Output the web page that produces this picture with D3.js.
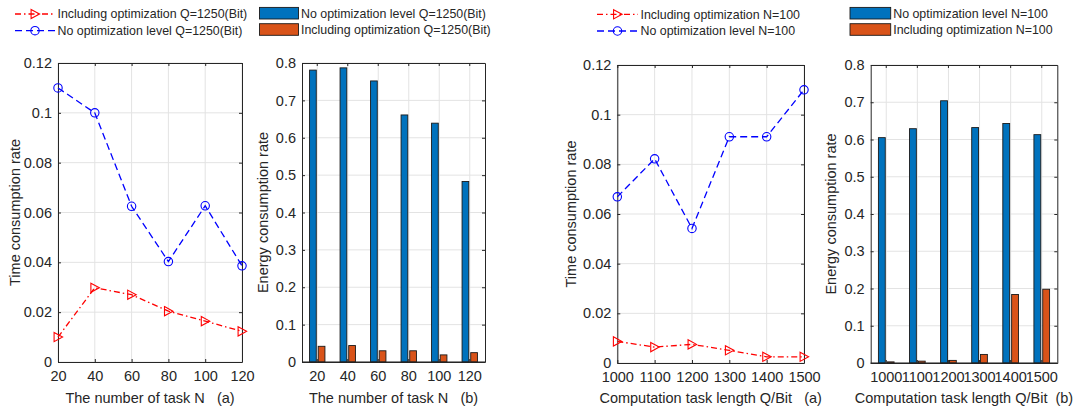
<!DOCTYPE html>
<html>
<head>
<meta charset="utf-8">
<script src="https://cdn.jsdelivr.net/npm/d3@7"></script>
<style>
    body { margin: 0; background: #fff; }
    text { font-family: "Liberation Sans", Arial, sans-serif; fill: #262626; }
</style>
</head>
<body>
<svg id="chart" width="1082" height="413"></svg>
<script>

// ---- data ----
let taskN = [20, 40, 60, 80, 100, 120];
let timeOptN = [0.0100, 0.0298, 0.0270, 0.0204, 0.0164, 0.0123];
let timeNoOptN = [0.1100, 0.1000, 0.0625, 0.0403, 0.0627, 0.0386];
let energyNoOptN = [0.781, 0.787, 0.752, 0.661, 0.639, 0.483];
let energyOptN = [0.042, 0.044, 0.030, 0.030, 0.019, 0.025];

let taskQ = [1000, 1100, 1200, 1300, 1400, 1500];
let timeOptQ = [0.0087, 0.0064, 0.0075, 0.0051, 0.0025, 0.0025];
let timeNoOptQ = [0.0669, 0.0822, 0.0542, 0.0911, 0.0911, 0.1100];
let energyNoOptQ = [0.605, 0.629, 0.704, 0.632, 0.643, 0.613];
let energyOptQ = [0.003, 0.005, 0.007, 0.023, 0.184, 0.198];

let timeTicks = [0, 0.02, 0.04, 0.06, 0.08, 0.1, 0.12];
let energyTicks = [0, 0.1, 0.2, 0.3, 0.4, 0.5, 0.6, 0.7, 0.8];

let timeLabel = "Time consumption rate";
let energyLabel = "Energy consumption rate";
let xLabelN = ["The number of task N   (a)", "The number of task N   (b)"];
let xLabelQ = ["Computation task length Q/Bit   (a)", "Computation task length Q/Bit  (b)"];
let legendN = ["Including optimization Q=1250(Bit)", "No optimization level Q=1250(Bit)"];
let legendBarN = ["No optimization level Q=1250(Bit)", "Including optimization Q=1250(Bit)"];
let legendQ = ["Including optimization N=100", "No optimization level N=100"];
let legendBarQ = ["No optimization level N=100", "Including optimization N=100"];

// matlab-ish colours
const RED = "#ff0000", BLUE = "#0000ff";
const BAR_BLUE = "#0072bd", BAR_ORANGE = "#d95319";
const AXIS = "#262626", GRID = "#e3e3e3";
const TICK_FS = 14.5, LABEL_FS = 14.5, LEGEND_FS = 12.4;

let svg = d3.select("#chart");

function triPath(size) {
    let s = size;
    return `M${-s * 0.85},${-s} L${s},0 L${-s * 0.85},${s} Z`;
}

// draws box, grid, inward ticks and labels for one axes
function drawFrame(g, x, y, box, yTicks, isBand, xTicks) {
    let [x0, x1, y0, y1] = box;

    // grid
    g.append("g").selectAll("line").data(yTicks).enter().append("line")
        .attr("x1", x0).attr("x2", x1)
        .attr("y1", d => y(d)).attr("y2", d => y(d))
        .attr("stroke", GRID).attr("stroke-width", 1);
    g.append("g").selectAll("line").data(xTicks).enter().append("line")
        .attr("x1", d => isBand ? x(d) + x.bandwidth() / 2 : x(d))
        .attr("x2", d => isBand ? x(d) + x.bandwidth() / 2 : x(d))
        .attr("y1", y0).attr("y2", y1)
        .attr("stroke", GRID).attr("stroke-width", 1);

    let ax = g.append("g").attr("class", "axes");

    let left = d3.axisLeft(y).tickValues(yTicks).tickSizeInner(-3).tickSizeOuter(0).tickPadding(6)
        .tickFormat(d3.format("~g"));
    let right = d3.axisRight(y).tickValues(yTicks).tickSizeInner(-3).tickSizeOuter(0).tickFormat("");
    let bottom = d3.axisBottom(x).tickValues(xTicks).tickSizeInner(-3).tickSizeOuter(0).tickPadding(9)
        .tickFormat(d => String(d));
    let top = d3.axisTop(x).tickValues(xTicks).tickSizeInner(-3).tickSizeOuter(0).tickFormat("");

    ax.append("g").attr("transform", `translate(${x0},0)`).call(left);
    ax.append("g").attr("transform", `translate(${x1},0)`).call(right);
    ax.append("g").attr("transform", `translate(0,${y1})`).call(bottom);
    ax.append("g").attr("transform", `translate(0,${y0})`).call(top);

    ax.selectAll(".domain").attr("stroke", AXIS).attr("stroke-width", 1);
    ax.selectAll(".tick line").attr("stroke", AXIS);
    ax.selectAll(".tick text").attr("font-size", TICK_FS).attr("fill", AXIS)
        .style("font-family", "'Liberation Sans', Arial, sans-serif");
}

function addLabels(g, box, xText, yText, yLabelX) {
    let [x0, x1, y0, y1] = box;
    g.append("text")
        .attr("x", (x0 + x1) / 2).attr("y", 402.5)
        .attr("text-anchor", "middle").attr("font-size", LABEL_FS)
        .style("white-space", "pre")
        .text(xText);
    g.append("text")
        .attr("transform", `translate(${yLabelX},${(y0 + y1) / 2}) rotate(-90)`)
        .attr("text-anchor", "middle").attr("font-size", LABEL_FS)
        .text(yText);
}

// ---- line panel ----
function linePanel(box, xs, opt, noOpt, legendTexts, legendPos, xText, yLabelX) {
    let [x0, x1, y0, y1] = box;
    let g = svg.append("g");
    let x = d3.scaleLinear().domain([xs[0], xs[xs.length - 1]]).range([x0, x1]);
    let y = d3.scaleLinear().domain([0, 0.12]).range([y1, y0]);

    drawFrame(g, x, y, box, timeTicks, false, xs);

    let line = d3.line().x(d => x(d[0])).y(d => y(d[1]));
    let series = [
        {vals: opt, color: RED, dash: "6,3,1.5,3", marker: "tri"},
        {vals: noOpt, color: BLUE, dash: "7,4", marker: "circle"}
    ];

    series.forEach(function (s) {
        let pts = xs.map((v, i) => [v, s.vals[i]]);
        g.append("path").datum(pts)
            .attr("d", line).attr("fill", "none")
            .attr("stroke", s.color).attr("stroke-width", 1.3)
            .attr("stroke-dasharray", s.dash);
        drawMarkers(g, pts.map(p => [x(p[0]), y(p[1])]), s);
    });

    // legend
    let [lx0, lx1, ly] = legendPos;
    series.forEach(function (s, i) {
        let yy = ly + i * 16.7;
        g.append("line").attr("x1", lx0).attr("x2", lx1).attr("y1", yy).attr("y2", yy)
            .attr("stroke", s.color).attr("stroke-width", 1.3).attr("stroke-dasharray", s.dash);
        drawMarkers(g, [[(lx0 + lx1) / 2, yy]], s);
        g.append("text").attr("x", lx1 + 2.5).attr("y", yy + 4.4)
            .attr("font-size", LEGEND_FS).text(legendTexts[i]);
    });

    addLabels(g, box, xText, timeLabel, yLabelX);
}

function drawMarkers(g, pts, s) {
    if (s.marker == "tri") {
        g.append("g").selectAll("path").data(pts).enter().append("path")
            .attr("d", triPath(4.6))
            .attr("transform", d => `translate(${d[0]},${d[1]})`)
            .attr("fill", "none").attr("stroke", s.color).attr("stroke-width", 1.1);
    } else {
        g.append("g").selectAll("circle").data(pts).enter().append("circle")
            .attr("cx", d => d[0]).attr("cy", d => d[1]).attr("r", 4.2)
            .attr("fill", "none").attr("stroke", s.color).attr("stroke-width", 1.1);
    }
}

// ---- bar panel ----
function barPanel(box, cats, noOpt, opt, legendTexts, legendPos, xText, yLabelX) {
    let [x0, x1, y0, y1] = box;
    let g = svg.append("g");
    let x = d3.scaleBand().domain(cats).range([x0, x1]).padding(0);
    let y = d3.scaleLinear().domain([0, 0.8]).range([y1, y0]);

    drawFrame(g, x, y, box, energyTicks, true, cats);

    let bw = x.bandwidth() * 0.22;
    let off = x.bandwidth() * 0.142;
    let series = [
        {vals: noOpt, color: BAR_BLUE, shift: -off},
        {vals: opt, color: BAR_ORANGE, shift: off}
    ];

    series.forEach(function (s) {
        g.append("g").selectAll("rect").data(cats).enter().append("rect")
            .attr("x", (d) => x(d) + x.bandwidth() / 2 + s.shift - bw / 2)
            .attr("width", bw)
            .attr("y", (d, i) => y(s.vals[i]))
            .attr("height", (d, i) => y(0) - y(s.vals[i]))
            .attr("fill", s.color).attr("stroke", "#1a1a1a").attr("stroke-width", 0.9);
    });

    // redraw bottom domain over bar edges
    g.append("line").attr("x1", x0).attr("x2", x1).attr("y1", y1).attr("y2", y1)
        .attr("stroke", AXIS).attr("stroke-width", 1);

    let [lx0, lx1, ly] = legendPos;
    series.forEach(function (s, i) {
        let yy = ly + i * 16.3;
        g.append("rect").attr("x", lx0).attr("y", yy - 5.8).attr("width", lx1 - lx0).attr("height", 11.6)
            .attr("fill", s.color).attr("stroke", "#1a1a1a").attr("stroke-width", 0.9);
        g.append("text").attr("x", lx1 + 2.5).attr("y", yy + 4.4)
            .attr("font-size", LEGEND_FS).text(legendTexts[i]);
    });

    addLabels(g, box, xText, energyLabel, yLabelX);
}

linePanel([58, 242, 63, 362], taskN, timeOptN, timeNoOptN, legendN, [15, 55, 14], xLabelN[0], 19.5);
barPanel([302, 485, 63, 362], taskN, energyNoOptN, energyOptN, legendBarN, [259.5, 298.5, 13.2], xLabelN[1], 267.5);
linePanel([617.3, 804, 65, 363], taskQ, timeOptQ, timeNoOptQ, legendQ, [597, 638, 14.3], xLabelQ[0], 576);
barPanel([870.7, 1057.3, 65, 363], taskQ, energyNoOptQ, energyOptQ, legendBarQ, [850, 890.7, 13.2], xLabelQ[1], 836);

</script>
</body>
</html>
